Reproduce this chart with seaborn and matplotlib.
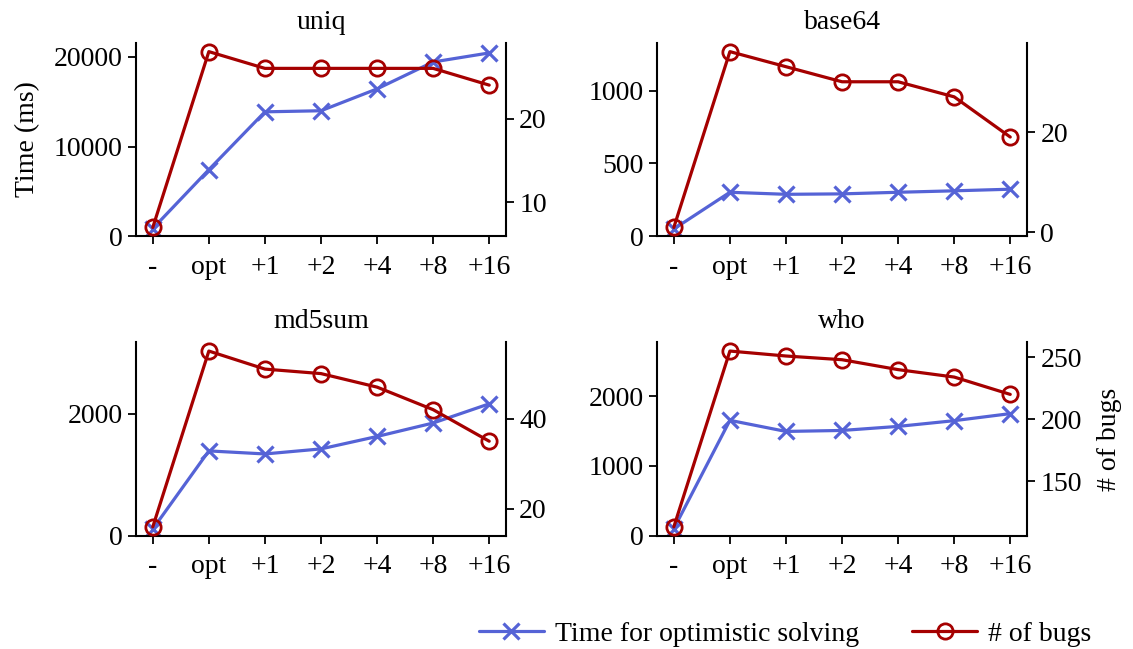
import matplotlib
matplotlib.use("Agg")
import matplotlib.pyplot as plt
import seaborn as sns
import pandas as pd

# configurations on the x axis
configs = ['-', 'opt', '+1', '+2', '+4', '+8', '+16']

# time for optimistic solving (ms) and number of bugs, per program
uniq_time = [860, 7430, 13880, 14000, 16440, 19440, 20450]
uniq_bugs = [7, 28, 26, 26, 26, 26, 24]
base64_time = [50, 302, 288, 291, 302, 312, 323]
base64_bugs = [1, 36, 33, 30, 30, 27, 19]
md5sum_time = [110, 1392, 1342, 1425, 1629, 1850, 2165]
md5sum_bugs = [16, 55, 51, 50, 47, 42, 35]
who_time = [100, 1652, 1493, 1507, 1565, 1647, 1748]
who_bugs = [113, 255, 251, 248, 240, 234, 220]

programs = ['uniq', 'base64', 'md5sum', 'who']
times = [uniq_time, base64_time, md5sum_time, who_time]
bugs = [uniq_bugs, base64_bugs, md5sum_bugs, who_bugs]

# axis settings
time_top = [21576, 1328, 3176, 2770]
time_ticks = [[0, 10000, 20000], [0, 500, 1000], [0, 2000], [0, 1000, 2000]]
bug_ticks = [[10, 20], [0, 20], [20, 40], [150, 200, 250]]

blue = '#5563d6'
red = '#a50000'

sns.set_style('ticks')
plt.rcParams['font.family'] = ['Liberation Serif', 'DejaVu Serif']
plt.rcParams['font.size'] = 20
plt.rcParams['text.color'] = 'black'
plt.rcParams['axes.labelcolor'] = 'black'
plt.rcParams['xtick.color'] = 'black'
plt.rcParams['ytick.color'] = 'black'

fig, axes = plt.subplots(2, 2, figsize=(11.33, 6.49), dpi=100)
fig.subplots_adjust(left=0.120, right=0.9065, top=0.934, bottom=0.1746,
                    wspace=0.408, hspace=0.548)

handles = []
for i, ax in enumerate(axes.flat):
    df = pd.DataFrame({'config': configs, 'time': times[i], 'bugs': bugs[i]})

    sns.lineplot(data=df, x='config', y='time', ax=ax, sort=False,
                 color=blue, linewidth=2.3, marker='x', markersize=11,
                 markeredgewidth=2.3, markeredgecolor=blue,
                 label='Time for optimistic solving', legend=False)
    ax2 = ax.twinx()
    sns.lineplot(data=df, x='config', y='bugs', ax=ax2, sort=False,
                 color=red, linewidth=2.3, marker='o', markersize=11,
                 markerfacecolor='none', markeredgewidth=2,
                 markeredgecolor=red, label='# of bugs', legend=False)

    ax.set_ylim(0, time_top[i])
    ax.set_yticks(time_ticks[i])
    ax2.set_yticks(bug_ticks[i])
    ax.set_title(programs[i], fontsize=20, pad=10)
    ax.set_xlabel('')
    ax.set_ylabel('')
    ax2.set_ylabel('')

    for a in (ax, ax2):
        a.tick_params(labelsize=20, length=6, width=1.3, colors='black')
        for s in a.spines.values():
            s.set_linewidth(1.5)
            s.set_color('black')
    ax.tick_params(axis='x', pad=7.5)
    ax.spines['top'].set_visible(False)
    ax.spines['right'].set_visible(False)
    ax2.spines['top'].set_visible(False)
    ax2.spines['left'].set_visible(False)
    ax2.spines['bottom'].set_visible(False)

    if i == 0:
        ax.set_ylabel('Time (ms)', fontsize=20, labelpad=10)
        handles = ax.get_lines()[:1] + ax2.get_lines()[:1]
    if i == 3:
        ax2.set_ylabel('# of bugs', fontsize=20, labelpad=11)

fig.legend(handles, ['Time for optimistic solving', '# of bugs'],
           loc='center', bbox_to_anchor=(0.693, 0.023), ncol=2,
           frameon=False, fontsize=20, handlelength=2.35,
           handletextpad=0.4, columnspacing=1.9)

fig.savefig('out.png', dpi=100)
